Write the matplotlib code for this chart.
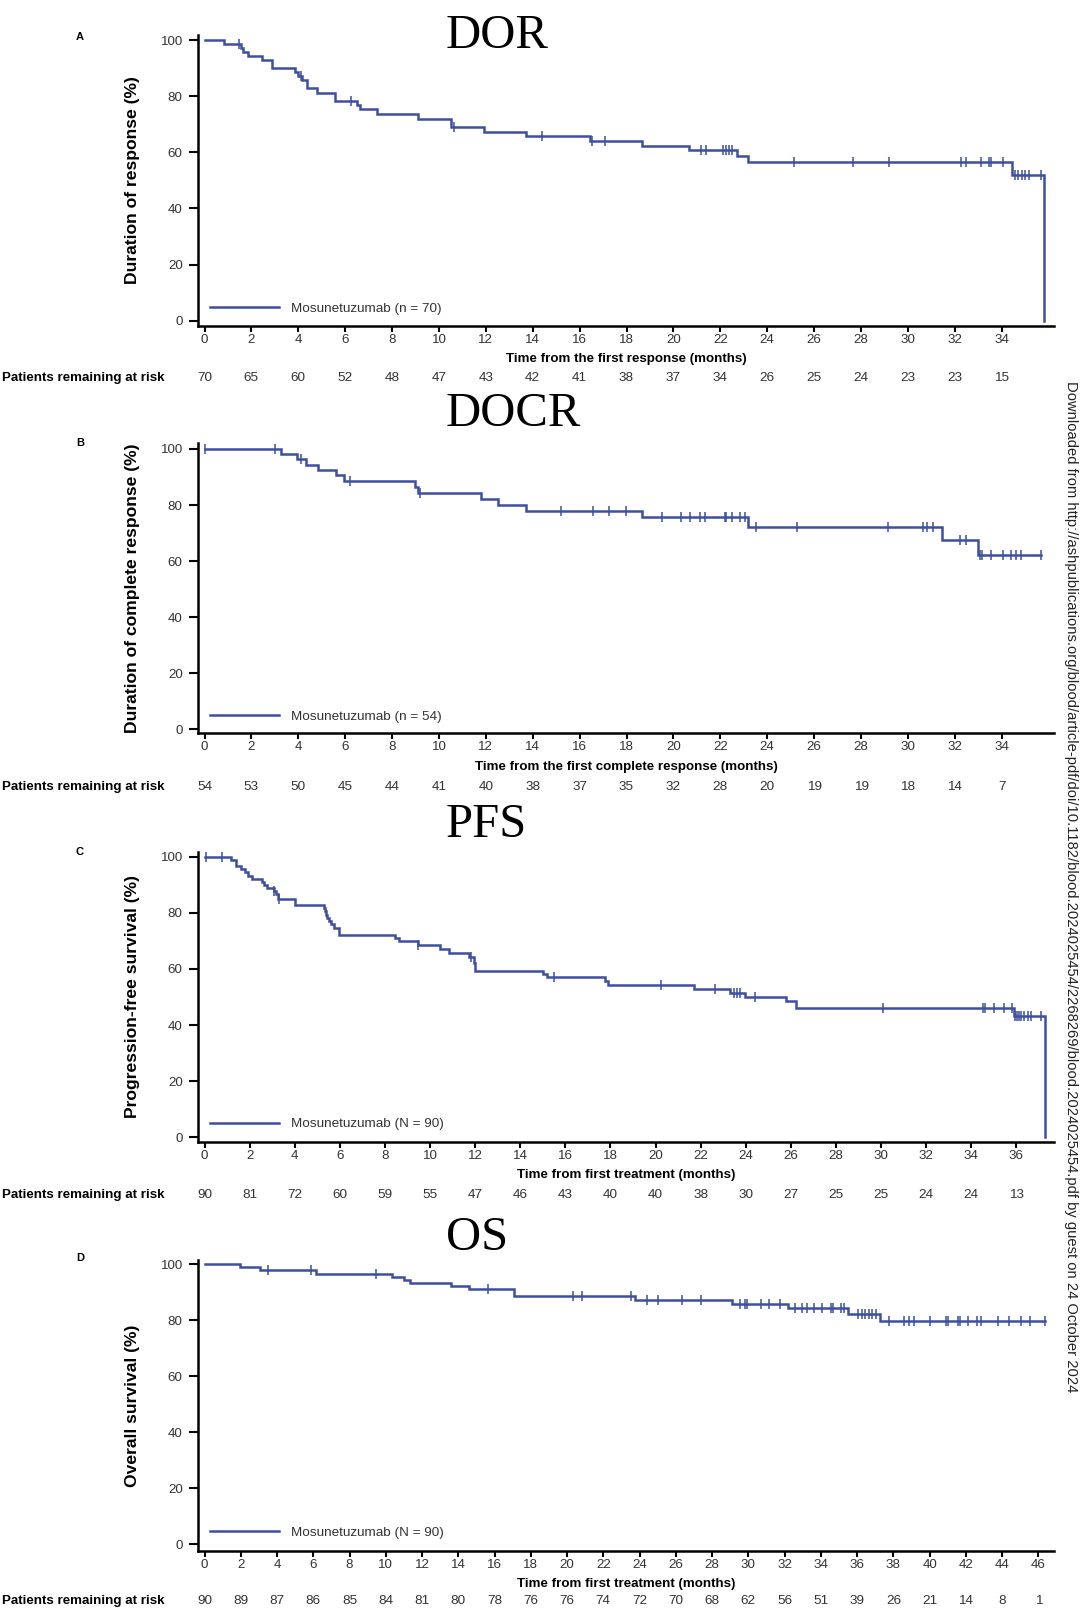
import numpy as np
import matplotlib
matplotlib.use("Agg")
import matplotlib.pyplot as plt
from matplotlib.lines import Line2D

plt.rcParams['font.family'] = ['Liberation Sans', 'DejaVu Sans']

# ---- data ----
# A: duration of response
dor_times = [0, 0.82, 1.56, 1.63, 1.85, 2.44, 2.88, 3.88, 4.0, 4.15, 4.39, 4.79, 5.55,
             6.5, 6.65, 7.36, 9.12, 10.51, 11.9, 13.7, 16.44, 18.64, 20.67, 22.71,
             23.2, 34.43, 35.82]
dor_surv = [100, 98.6, 97.1, 95.7, 94.3, 92.8, 90.0, 88.6, 87.1, 85.6, 82.8, 81.2, 78.3,
            76.8, 75.3, 73.6, 72.0, 69.0, 67.4, 65.7, 63.9, 62.4, 60.7, 58.8,
            56.5, 52.0, 0]
dor_censored = [1.48, 4.13, 6.23, 10.63, 14.38, 16.54, 17.07, 21.18, 21.39, 22.13, 22.24,
                22.35, 22.5, 25.13, 27.67, 29.2, 32.25, 32.47, 33.1, 33.44, 33.54, 34.07,
                34.57, 34.69, 34.86, 35.0, 35.15, 35.67]
dor_at_risk = [70, 65, 60, 52, 48, 47, 43, 42, 41, 38, 37, 34, 26, 25, 24, 23, 23, 15]

# B: duration of complete response
docr_times = [0, 3.25, 3.94, 4.35, 4.82, 5.6, 5.93, 8.97, 9.12, 11.8, 12.5, 13.7, 18.64,
              23.19, 31.46, 32.99]
docr_surv = [100, 98.1, 96.3, 94.4, 92.5, 90.6, 88.5, 86.4, 84.3, 82.2, 80.1, 78.0, 75.9,
             72.3, 67.5, 62.2]
docr_censored = [0.04, 3.02, 4.13, 6.21, 9.19, 15.22, 16.58, 17.24, 17.98, 19.52, 20.33,
                 20.72, 21.13, 21.35, 22.19, 22.26, 22.48, 22.82, 23.07, 23.53, 25.29,
                 29.14, 30.64, 30.83, 31.08, 32.22, 32.47, 33.08, 33.15, 33.54, 34.06,
                 34.4, 34.6, 34.84, 35.67]
docr_at_risk = [54, 53, 50, 45, 44, 41, 40, 38, 37, 35, 32, 28, 20, 19, 19, 18, 14, 7]

# C: progression-free survival
pfs_times = [0, 1.19, 1.39, 1.62, 1.8, 1.92, 2.1, 2.53, 2.66, 2.76, 3.07, 3.15, 3.27, 4.03,
             5.28, 5.33, 5.38, 5.45, 5.53, 5.62, 5.75, 5.97, 8.46, 8.64, 9.45, 10.44,
             10.86, 11.73, 11.93, 12.0, 15.03, 15.18, 17.78, 17.9, 21.72, 23.32, 23.96,
             25.8, 26.25, 35.88, 37.25]
pfs_surv = [100, 98.9, 96.7, 95.6, 94.4, 93.3, 92.2, 91.1, 90.0, 88.9, 87.8, 86.7, 85.0,
            82.8, 81.6, 80.5, 79.3, 78.2, 77.0, 75.9, 74.7, 72.2, 71.0, 69.8, 68.4, 67.1,
            65.8, 64.4, 62.0, 59.4, 58.2, 57.0, 55.7, 54.4, 52.9, 51.5, 49.9, 48.4, 46.2,
            43.3, 0]
pfs_censored = [0.05, 0.78, 3.1, 3.3, 9.45, 11.82, 15.52, 20.25, 22.63, 23.5, 23.62, 23.73,
                24.42, 30.07, 34.5, 34.6, 35.03, 35.46, 35.8, 35.96, 36.04, 36.11, 36.19,
                36.34, 36.5, 36.65, 37.1]
pfs_at_risk = [90, 81, 72, 60, 59, 55, 47, 46, 43, 40, 40, 38, 30, 27, 25, 25, 24, 24, 13]

# D: overall survival
os_times = [0, 1.98, 3.06, 6.15, 10.37, 10.98, 11.32, 13.6, 14.59, 17.07, 23.73, 29.08,
            32.18, 35.5, 37.27]
os_surv = [100, 98.9, 97.8, 96.6, 95.5, 94.4, 93.3, 92.1, 91.0, 88.6, 87.3, 85.9, 84.5,
           82.3, 79.6]
os_censored = [3.5, 5.85, 9.48, 15.65, 20.31, 20.84, 23.54, 24.43, 25.0, 26.33, 27.37,
               29.52, 29.84, 29.95, 30.72, 31.13, 31.74, 32.6, 32.98, 33.22, 33.64, 34.08,
               34.55, 34.67, 35.12, 35.27, 36.07, 36.26, 36.45, 36.64, 36.83, 37.02, 37.78,
               38.58, 38.86, 39.11, 40.02, 40.91, 41.0, 41.54, 41.67, 42.14, 42.62, 42.84,
               43.76, 44.36, 45.02, 45.56, 46.36]
os_at_risk = [90, 89, 87, 86, 85, 84, 81, 80, 78, 76, 76, 74, 72, 70, 68, 62, 56, 51, 39,
              26, 21, 14, 8, 1]

panels = [
    dict(letter='A', title='DOR', times=dor_times, surv=dor_surv, cens=dor_censored,
         at_risk=dor_at_risk, end=35.82, xmax=36.23,
         ylabel='Duration of response (%)',
         xlabel='Time from the first response (months)',
         legend='Mosunetuzumab (n = 70)'),
    dict(letter='B', title='DOCR', times=docr_times, surv=docr_surv, cens=docr_censored,
         at_risk=docr_at_risk, end=35.67, xmax=36.23,
         ylabel='Duration of complete response (%)',
         xlabel='Time from the first complete response (months)',
         legend='Mosunetuzumab (n = 54)'),
    dict(letter='C', title='PFS', times=pfs_times, surv=pfs_surv, cens=pfs_censored,
         at_risk=pfs_at_risk, end=37.25, xmax=37.67,
         ylabel='Progression-free survival (%)',
         xlabel='Time from first treatment (months)',
         legend='Mosunetuzumab (N = 90)'),
    dict(letter='D', title='OS', times=os_times, surv=os_surv, cens=os_censored,
         at_risk=os_at_risk, end=46.36, xmax=46.86,
         ylabel='Overall survival (%)',
         xlabel='Time from first treatment (months)',
         legend='Mosunetuzumab (N = 90)'),
]

# layout in pixels (top of axes, bottom of axes, ylim, xlabel y, at-risk y,
# legend y, title baseline, letter y)
layout = [
    dict(top=35, bottom=326, ylim=(-1.9, 101.8), xlab=359, risk=378, leg=308.3,
         title_y=48, letter_y=37),
    dict(top=443.3, bottom=733.3, ylim=(-1.4, 102.0), xlab=767.3, risk=787.3, leg=716.7,
         title_y=425.7, letter_y=443.3),
    dict(top=851.7, bottom=1141.7, ylim=(-1.6, 101.8), xlab=1175, risk=1195, leg=1124,
         title_y=836.7, letter_y=851.7),
    dict(top=1260, bottom=1551, ylim=(-2.4, 101.5), xlab=1584, risk=1601, leg=1532.3,
         title_y=1250, letter_y=1258),
]

W, H = 1080, 1610
AX_LEFT, AX_RIGHT, X0 = 198, 1054, 204.5
CURVE = '#3d4f9f'
GRAY = '#333333'

fig = plt.figure(figsize=(W / 100, H / 100), dpi=100)

for p, lay in zip(panels, layout):
    top, bottom = lay['top'], lay['bottom']
    ax = fig.add_axes([AX_LEFT / W, 1 - bottom / H, (AX_RIGHT - AX_LEFT) / W,
                       (bottom - top) / H])
    times = np.array(p['times'])
    surv = np.array(p['surv'])
    xs = list(times)
    ys = list(surv)
    if p['end'] > times[-1]:
        xs.append(p['end'])
        ys.append(surv[-1])
    ax.step(xs, ys, where='post', color=CURVE, lw=1.8, solid_joinstyle='miter')

    cens = np.array(p['cens'])
    idx = np.searchsorted(times, cens, side='right') - 1
    ax.plot(cens, surv[idx], ls='none', marker='|', ms=7, mew=1.1, color=CURVE)

    xmin = -p['xmax'] * (X0 - AX_LEFT) / (AX_RIGHT - X0)
    ax.set_xlim(xmin, p['xmax'])
    ax.set_ylim(*lay['ylim'])
    ticks = np.arange(0, 2 * len(p['at_risk']), 2)
    ax.set_xticks(ticks)
    ax.set_yticks([0, 20, 40, 60, 80, 100])

    for s in ['top', 'right']:
        ax.spines[s].set_visible(False)
    for s in ['left', 'bottom']:
        ax.spines[s].set_linewidth(1.8)
    ax.tick_params(axis='x', length=4.2, width=1.5, pad=1.5, labelsize=9.6,
                   labelcolor=GRAY)
    ax.tick_params(axis='y', length=6.5, width=1.5, pad=4.5, labelsize=9.6,
                   labelcolor=GRAY)

    hpx = bottom - top
    ax.set_ylabel(p['ylabel'], fontsize=12.6, fontweight='bold', va='center')
    ax.yaxis.set_label_coords((132.6 - AX_LEFT) / (AX_RIGHT - AX_LEFT), 0.5)
    ax.set_xlabel(p['xlabel'], fontsize=9.6, fontweight='bold', va='center')
    ax.xaxis.set_label_coords(0.5, -(lay['xlab'] - bottom) / hpx)

    # numbers at risk under each tick
    risk_y = -(lay['risk'] - bottom) / hpx
    for t, n in zip(ticks, p['at_risk']):
        ax.text(t, risk_y, str(n), transform=ax.get_xaxis_transform(), ha='center',
                va='center', fontsize=9.7, color=GRAY)
    fig.text(2 / W, 1 - lay['risk'] / H, 'Patients remaining at risk', ha='left',
             va='center', fontsize=9.6, fontweight='bold')

    handle = Line2D([], [], color=CURVE, lw=1.8)
    ax.legend([handle], [p['legend']], loc='center left',
              bbox_to_anchor=((210 - AX_LEFT) / (AX_RIGHT - AX_LEFT),
                              (bottom - lay['leg']) / hpx),
              frameon=False, fontsize=9.7, labelcolor=GRAY, handlelength=5.1,
              handletextpad=0.94, borderpad=0, borderaxespad=0)

    fig.text(80 / W, 1 - lay['letter_y'] / H, p['letter'], ha='center', va='center',
             fontsize=8, fontweight='bold')
    fig.text(446 / W, 1 - lay['title_y'] / H, p['title'], ha='left', va='baseline',
             fontsize=35, family='Liberation Serif')

fig.text(1071 / W, 1 - 886.5 / H,
         'Downloaded from http://ashpublications.org/blood/article-pdf/doi/10.1182/'
         'blood.2024025454/2268269/blood.2024025454.pdf by guest on 24 October 2024',
         rotation=-90, ha='center', va='center', fontsize=10.6, color='#222222')

fig.savefig('out.png', dpi=100)
